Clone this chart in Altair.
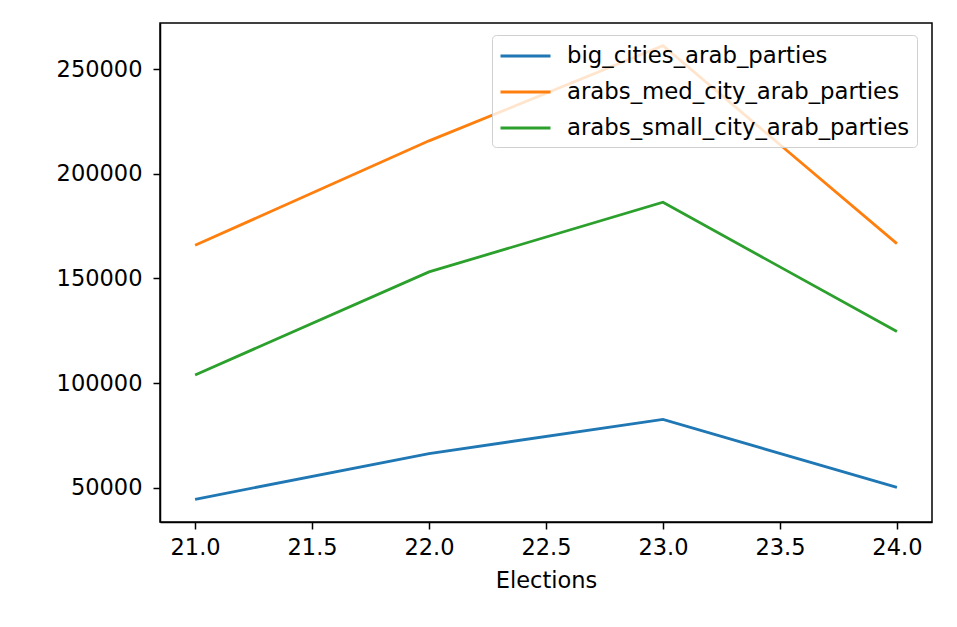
import altair as alt
import pandas as pd

elections = [21, 22, 23, 24]
big_cities = [44440, 66300, 82600, 50140]
med_city = [165780, 215700, 261170, 166590]
small_city = [103850, 153090, 186360, 124570]
series_names = ["big_cities_arab_parties", "arabs_med_city_arab_parties", "arabs_small_city_arab_parties"]
colors = ["#1f77b4", "#ff7f0e", "#2ca02c"]

rows = []
for name, vals in zip(series_names, [big_cities, med_city, small_city]):
    for e, v in zip(elections, vals):
        rows.append({"Elections": e, "value": v, "series": name})
df = pd.DataFrame(rows)

font = "DejaVu Sans"
fs = 22.5

chart = alt.Chart(df).mark_line(strokeWidth=2.8, clip=True).encode(
    x=alt.X("Elections:Q",
            scale=alt.Scale(domain=[20.85, 24.15], nice=False, zero=False),
            axis=alt.Axis(values=[21.0, 21.5, 22.0, 22.5, 23.0, 23.5, 24.0], format=".1f",
                          title="Elections", grid=False)),
    y=alt.Y("value:Q",
            scale=alt.Scale(domain=[33600, 272000], nice=False, zero=False),
            axis=alt.Axis(values=[50000, 100000, 150000, 200000, 250000], format="d",
                          title=None, grid=False)),
    color=alt.Color("series:N",
                    scale=alt.Scale(domain=series_names, range=colors),
                    sort=series_names,
                    legend=alt.Legend(title=None, orient="none", legendX=332, legendY=12,
                                      symbolType="M-1,0H3", symbolSize=625, symbolStrokeWidth=3,
                                      labelFontSize=22.8, labelFont=font, labelColor="black",
                                      labelLimit=500, labelOffset=40, rowPadding=10,
                                      padding=7, fillColor="rgba(255,255,255,0.8)",
                                      strokeColor="#d0d0d0", cornerRadius=4)),
).properties(
    width=772, height=499,
    autosize=alt.AutoSizeParams(type="none"),
    padding={"left": 152, "top": 15, "right": 17, "bottom": 97},
).configure_view(
    stroke="black", strokeWidth=1.5
).configure_axis(
    labelFont=font, labelFontSize=fs, labelColor="black",
    titleFont=font, titleFontSize=fs, titleColor="black", titleFontWeight="normal",
    domainColor="black", domainWidth=1.5, tickColor="black", tickWidth=1.5, tickSize=7,
).configure_axisX(
    labelPadding=7, titlePadding=11
).configure_axisY(
    labelPadding=11
)

chart.save("out.html", embed_options={"renderer": "svg", "actions": False})
